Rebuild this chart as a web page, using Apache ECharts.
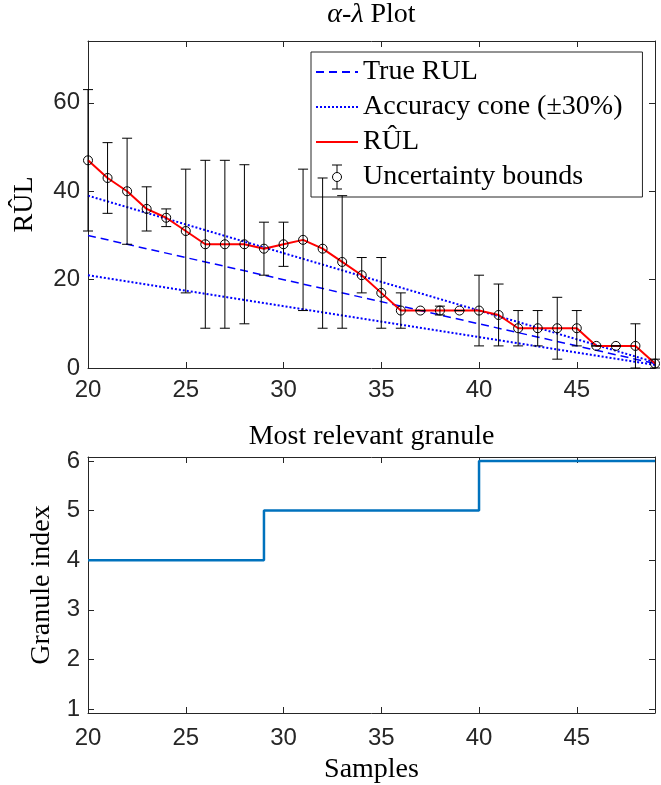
<!DOCTYPE html>
<html>
<head>
<meta charset="utf-8" />
<title>alpha-lambda plot</title>
<script src="https://cdn.jsdelivr.net/npm/echarts@6/dist/echarts.min.js"></script>
<style>
  html, body { margin: 0; padding: 0; background: #fff; }
  #main { width: 661px; height: 785px; }
</style>
</head>
<body>
<div id="main"></div>
<script>
// samples on the x axis
var samples = [20, 21, 22, 23, 24, 25, 26, 27, 28, 29, 30, 31, 32, 33, 34,
               35, 36, 37, 38, 39, 40, 41, 42, 43, 44, 45, 46, 47, 48, 49];
// estimated RUL and its uncertainty bounds
var rulHat   = [47, 43, 40, 36, 34, 31, 28, 28, 28, 27, 28, 29, 27, 24, 21,
                17, 13, 13, 13, 13, 13, 12, 9, 9, 9, 9, 5, 5, 5, 1];
var rulUpper = [63, 51, 52, 41, 36, 45, 47, 47, 46, 33, 33, 45, 43, 39, 25,
                25, 17, 13, 14, 13, 21, 19, 13, 13, 16, 13, 5, 5, 10, 2];
var rulLower = [31, 35, 28, 31, 32, 17, 9, 9, 10, 21, 23, 13, 9, 9, 17,
                9, 9, 13, 12, 13, 5, 5, 5, 5, 2, 5, 5, 5, 0, 0];
// true RUL and the accuracy cone (straight lines, end points)
var lineX      = [20, 49];
var trueRul    = [30, 1];
var coneUpper  = [39, 1.3];
var coneLower  = [21, 0.7];
// most relevant granule per sample
var granule = [4, 4, 4, 4, 4, 4, 4, 4, 4, 5, 5, 5, 5, 5, 5,
               5, 5, 5, 5, 5, 6, 6, 6, 6, 6, 6, 6, 6, 6, 6];
// tick labels
var xTicks = [20, 25, 30, 35, 40, 45];
var rulTicks = [0, 20, 40, 60];
var granTicks = [1, 2, 3, 4, 5, 6];

var SANS = "'Liberation Sans', Arial, sans-serif";
var SERIF = "'Liberation Serif', 'Times New Roman', serif";
var AX = '#262626';
var CLEAR = 'rgba(0,0,0,0)';

function pairs(xs, ys) {
    return xs.map(function (x, i) { return [x, ys[i]]; });
}

function renderErr(params, api) {
    var x = api.value(0);
    var top = api.coord([x, api.value(2)]);
    var bot = api.coord([x, api.value(1)]);
    var c = api.coord([x, api.value(3)]);
    var w = 5;
    var st = { stroke: '#000', lineWidth: 1, fill: null };
    return {
        type: 'group',
        children: [
            { type: 'line', shape: { x1: top[0], y1: top[1], x2: bot[0], y2: bot[1] }, style: st },
            { type: 'line', shape: { x1: top[0] - w, y1: top[1], x2: top[0] + w, y2: top[1] }, style: st },
            { type: 'line', shape: { x1: bot[0] - w, y1: bot[1], x2: bot[0] + w, y2: bot[1] }, style: st },
            { type: 'circle', shape: { cx: c[0], cy: c[1], r: 4.5 }, style: { stroke: '#000', lineWidth: 1, fill: CLEAR } }
        ]
    };
}

function baseAxis(extra) {
    var a = {
        axisLine: { onZero: false, lineStyle: { color: AX, width: 1 } },
        axisTick: { inside: true, length: 6, lineStyle: { color: AX } },
        axisLabel: { color: AX, fontFamily: SANS, fontSize: 24 },
        splitLine: { show: false },
        nameTextStyle: { fontFamily: SERIF, fontSize: 28, color: '#000' }
    };
    for (var k in extra) a[k] = extra[k];
    return a;
}

var errIcon = 'path://M0,0 M42,26 M16,1 L26,1 M21,1 L21,8.5 M21,17.5 L21,25 M16,25 L26,25 ' +
              'M25.5,13 A4.5,4.5 0 1,1 16.5,13 A4.5,4.5 0 1,1 25.5,13';
var noSymbol = { color: CLEAR, borderColor: CLEAR, borderWidth: 0 };

var chart = echarts.init(document.getElementById('main'));
chart.setOption({
    animation: false,
    backgroundColor: '#fff',
    grid: [
        { left: 88, right: 6, top: 41, height: 327 },
        { left: 88, right: 6, top: 457, height: 256 }
    ],
    legend: {
        left: 311, top: 52,
        orient: 'vertical',
        padding: [6, 20, 6, 4],
        itemWidth: 42, itemHeight: 26, itemGap: 7,
        backgroundColor: '#fff',
        borderColor: AX, borderWidth: 1, borderRadius: 0,
        textStyle: { fontFamily: SERIF, fontSize: 28, color: '#000' },
        data: [
            { name: 'True RUL', itemStyle: noSymbol },
            { name: 'Accuracy cone (±30%)', itemStyle: noSymbol },
            { name: 'RÛL', itemStyle: noSymbol },
            { name: 'Uncertainty bounds', icon: errIcon,
              itemStyle: { color: CLEAR, borderColor: '#000', borderWidth: 1 } }
        ]
    },
    xAxis: [
        baseAxis({ gridIndex: 0, type: 'value', min: 20, max: 49, position: 'bottom',
            axisLabel: { color: AX, fontFamily: SANS, fontSize: 24, margin: 10, customValues: xTicks },
            axisTick: { inside: true, length: 6, lineStyle: { color: AX }, customValues: xTicks } }),
        baseAxis({ gridIndex: 0, type: 'value', min: 20, max: 49, position: 'top',
            name: '{i|α}-{i|λ} Plot', nameLocation: 'middle', nameGap: 12,
            nameTextStyle: { fontFamily: SERIF, fontSize: 28, color: '#000',
                rich: { i: { fontFamily: SERIF, fontSize: 28, fontStyle: 'italic', color: '#000' } } },
            axisLabel: { show: false },
            axisTick: { inside: true, length: 6, lineStyle: { color: AX }, customValues: xTicks } }),
        baseAxis({ gridIndex: 1, type: 'value', min: 20, max: 49, position: 'bottom',
            name: 'Samples', nameLocation: 'middle', nameGap: 43,
            axisLabel: { color: AX, fontFamily: SANS, fontSize: 24, margin: 13, customValues: xTicks },
            axisTick: { inside: true, length: 6, lineStyle: { color: AX }, customValues: xTicks } }),
        baseAxis({ gridIndex: 1, type: 'value', min: 20, max: 49, position: 'top',
            name: 'Most relevant granule', nameLocation: 'middle', nameGap: 6,
            axisLabel: { show: false },
            axisTick: { inside: true, length: 6, lineStyle: { color: AX }, customValues: xTicks } })
    ],
    yAxis: [
        baseAxis({ gridIndex: 0, type: 'value', min: 0, max: 74, position: 'left',
            name: 'RÛL', nameLocation: 'middle', nameGap: 49,
            axisLabel: { color: AX, fontFamily: SANS, fontSize: 24, margin: 8, customValues: rulTicks },
            axisTick: { inside: true, length: 6, lineStyle: { color: AX }, customValues: rulTicks } }),
        baseAxis({ gridIndex: 0, type: 'value', min: 0, max: 74, position: 'right',
            axisLabel: { show: false },
            axisTick: { inside: true, length: 6, lineStyle: { color: AX }, customValues: rulTicks } }),
        baseAxis({ gridIndex: 1, type: 'value', min: 0.92, max: 6.08, position: 'left',
            name: 'Granule index', nameLocation: 'middle', nameGap: 30,
            axisLabel: { color: AX, fontFamily: SANS, fontSize: 24, margin: 8, customValues: granTicks },
            axisTick: { inside: true, length: 6, lineStyle: { color: AX }, customValues: granTicks } }),
        baseAxis({ gridIndex: 1, type: 'value', min: 0.92, max: 6.08, position: 'right',
            axisLabel: { show: false },
            axisTick: { inside: true, length: 6, lineStyle: { color: AX }, customValues: granTicks } })
    ],
    series: [
        { name: 'True RUL', type: 'line', xAxisIndex: 0, yAxisIndex: 0,
          data: pairs(lineX, trueRul), symbol: 'none',
          lineStyle: { color: '#0000ff', width: 1.5, type: [8, 5] } },
        { name: 'Accuracy cone (±30%)', type: 'line', xAxisIndex: 0, yAxisIndex: 0,
          data: pairs(lineX, coneUpper), symbol: 'none',
          lineStyle: { color: '#0000ff', width: 2, type: [2, 2] } },
        { name: 'Accuracy cone (±30%)', type: 'line', xAxisIndex: 0, yAxisIndex: 0,
          data: pairs(lineX, coneLower), symbol: 'none',
          lineStyle: { color: '#0000ff', width: 2, type: [2, 2] } },
        { name: 'RÛL', type: 'line', xAxisIndex: 0, yAxisIndex: 0,
          data: pairs(samples, rulHat), symbol: 'none',
          lineStyle: { color: '#ff0000', width: 2 } },
        { name: 'Uncertainty bounds', type: 'custom', xAxisIndex: 0, yAxisIndex: 0,
          renderItem: renderErr, z: 5,
          data: samples.map(function (x, i) { return [x, rulLower[i], rulUpper[i], rulHat[i]]; }) },
        { name: 'granule', type: 'line', xAxisIndex: 2, yAxisIndex: 2,
          data: pairs(samples, granule), step: 'end', symbol: 'none',
          lineStyle: { color: '#0072BD', width: 2.5 } }
    ]
});
</script>
</body>
</html>
